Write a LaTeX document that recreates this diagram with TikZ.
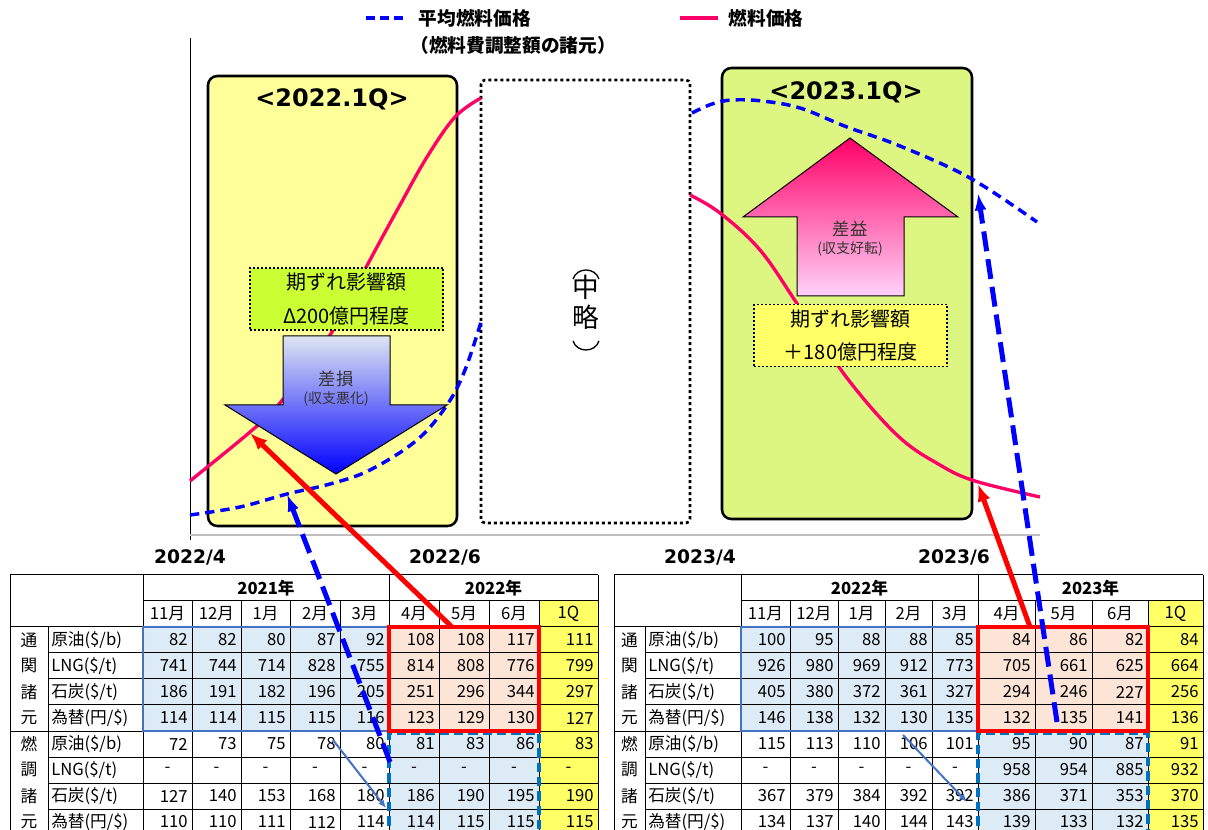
\documentclass[tikz,border=0pt]{standalone}
\usepackage{fontspec}
\setmainfont{Noto Sans CJK JP}
\newfontfamily\verdfont{DejaVu Sans}
\usepackage{tikz}
\usetikzlibrary{arrows.meta, positioning, calc}
\definecolor{fuelpink}{RGB}{255,0,102}
\definecolor{avgblue}{RGB}{0,0,255}
\definecolor{boxyellow}{RGB}{255,255,153}
\definecolor{boxgreen}{RGB}{221,246,130}
\definecolor{laggreen}{RGB}{204,255,51}
\definecolor{lagyellow}{RGB}{255,255,102}
\definecolor{cellblue}{RGB}{221,235,247}
\definecolor{cellsalmon}{RGB}{252,228,214}
\definecolor{cellyellow}{RGB}{255,255,102}
\definecolor{steelblue}{RGB}{68,114,196}
\definecolor{dashblue}{RGB}{0,112,192}
\tikzset{>=Latex}
\tikzset{
  fuelline/.style={fuelpink, line width=2.5pt},
  avgline/.style={avgblue, line width=2.6pt, dash pattern=on 7pt off 4.5pt},
  qbox/.style={draw=black, line width=1.9pt, rounded corners=7pt},
  qtitle/.style={font=\verdfont\bfseries\fontsize{18}{20}\selectfont},
  lagbox/.style={draw=black, line width=1.4pt, dash pattern=on 1.5pt off 1.5pt,
    align=center, minimum width=145pt, minimum height=46.5pt, inner sep=0pt,
    font=\fontsize{15}{25}\selectfont},
  datelbl/.style={font=\verdfont\bfseries\fontsize{14}{16}\selectfont},
  legendtxt/.style={anchor=west, font=\bfseries\fontsize{14}{16}\selectfont},
  celltxt/.style={inner sep=0pt, font=\fontsize{12.5}{14}\selectfont},
  num/.style={celltxt, anchor=east},
  yearlbl/.style={inner sep=0pt, font=\bfseries\fontsize{12.5}{14}\selectfont},
  gridline/.style={black, line width=0.75pt},
  omitarc/.style={black, line width=1pt},
  bigred/.style={-{Latex[length=13pt,width=10pt]}, red, line width=3.75pt},
  bigblue/.style={-{Latex[length=13pt,width=9pt]}, avgblue, line width=3.75pt,
    dash pattern=on 15pt off 6pt},
  thinblue/.style={-{Latex[length=6pt,width=5pt]}, steelblue, line width=1.5pt},
}
\def\dashmark{-}
% #1 column edges, #2 row, #3 values
\newcommand\numrow[3]{%
  \foreach \v [count=\c] in {#3} {
    \pgfmathsetmacro\xl{{#1}[\c-1]}
    \pgfmathsetmacro\xr{{#1}[\c]}
    \ifx\v\dashmark
      \node[celltxt] at ({(\xl+\xr)/2},{614+26*#2}) {-};
    \else
      \node[num] at (\xr-4,{614+26*#2}) {\v};
    \fi
  }}
% #1 left edge, #2 group column edge, #3 column edges, #4 #5 years
\newcommand\fueltable[5]{%
  \pgfmathsetmacro\xa{{#3}[0]}
  \pgfmathsetmacro\xs{{#3}[5]}
  \pgfmathsetmacro\xq{{#3}[8]}
  \pgfmathsetmacro\xe{{#3}[9]}
  \fill[cellblue] (\xa,627) rectangle (\xs,731);
  \fill[cellsalmon] (\xs,627) rectangle (\xq,731);
  \fill[cellblue] (\xs,731) rectangle (\xq,840);
  \fill[cellyellow] (\xq,601) rectangle (\xe,840);
  \draw[gridline] (#1,575) -- (\xe,575) (\xa,601) -- (\xe,601)
    (#1,627) -- (\xe,627) (#1,731) -- (\xe,731);
  \foreach \y in {653,679,705,757,783,809} \draw[gridline] (#2,\y) -- (\xe,\y);
  \draw[gridline] (#1,575) -- (#1,840) (#2,627) -- (#2,840) (\xa,575) -- (\xa,840)
    (\xs,575) -- (\xs,840) (\xe,575) -- (\xe,840);
  \foreach \i in {1,2,3,4,6,7,8} {
    \pgfmathsetmacro\xx{{#3}[\i]}
    \draw[gridline] (\xx,601) -- (\xx,840);
  }
  \node[yearlbl] at ({(\xa+\xs)/2},588) {#4};
  \node[yearlbl] at ({(\xs+\xe)/2},588) {#5};
  \foreach \m [count=\i] in {11月,12月,1月,2月,3月,4月,5月,6月,1Q} {
    \pgfmathsetmacro\xl{{#3}[\i-1]}
    \pgfmathsetmacro\xr{{#3}[\i]}
    \node[celltxt] at ({(\xl+\xr)/2},614) {\m};
  }
  \foreach \ch [count=\i] in {通,関,諸,元,燃,調,諸,元}
    \node[celltxt] at ({(#1+#2)/2},{614+26*\i}) {\ch};
  \foreach \lbl [count=\i] in {原油(\$/b),LNG(\$/t),石炭(\$/t),為替(円/\$),原油(\$/b),LNG(\$/t),石炭(\$/t),為替(円/\$)}
    \node[celltxt, anchor=west] at (#2+3,{614+26*\i}) {\lbl};
  % highlighted blocks
  \draw[steelblue, line width=1.5pt] (\xa,627) rectangle (\xs,731);
  \draw[dashblue, line width=2.6pt, dash pattern=on 7pt off 3.75pt]
    (\xs,840) -- (\xs,733) -- (\xq,733) -- (\xq,840);
  \draw[red, line width=3pt] (\xs,627) rectangle (\xq,731);
}

\begin{document}
\begin{tikzpicture}[x=0.75pt, y=-0.75pt]
  \useasboundingbox (0,0) rectangle (1208,830);
  \clip (0,0) rectangle (1208,830);
  % legend
  \draw[avgline, dash pattern=on 6.75pt off 3.75pt] (366,18) -- (404,18);
  \node[legendtxt] (avgleg) at (414,18) {平均燃料価格};
  \draw[fuelline] (680,18) -- (718,18);
  \node[legendtxt] (fuelleg) at (724,18) {燃料価格};
  \node[font=\bfseries\fontsize{14}{16}\selectfont] (sub) at (513,45) {（燃料費調整額の諸元）};
  % axes
  \draw[black, line width=0.75pt] (190,38) -- (190,540);
  \draw[black!25, line width=1.5pt] (190,535) -- (1040,535);
  % quarter boxes
  \draw[qbox, fill=boxyellow] (208,76) rectangle (457,526);
  \draw[qbox, fill=boxgreen] (722,68) rectangle (972,519);
  \draw[black, line width=2pt, dash pattern=on 2.25pt off 2.25pt, rounded corners=3pt]
    (481,80) rectangle (690,523);
  \node[qtitle] (q22) at (332,99) {<2022.1Q>};
  \node[qtitle] (q23) at (846,92) {<2023.1Q>};
  \node[align=center, font=\fontsize{20}{22.5}\selectfont] (omit) at (586,302) {中\\略};
  % vertical brackets of the omission mark
  \draw[omitarc] (573,279) .. controls (577,267) and (595,267) .. (599,279);
  \draw[omitarc] (573,341) .. controls (577,353) and (595,353) .. (599,341);
  % price curves
  \draw[fuelline] plot[smooth, tension=0.6] coordinates {(190,481) (250,432) (280,403)
    (332,332) (370,260) (400,205) (427,157) (455,117) (481,98)};
  \draw[avgline] plot[smooth, tension=0.6] coordinates {(190,515) (240,507) (287,494)
    (330,484) (370,470) (417,440) (447,405) (465,370) (481,322)};
  \draw[fuelline] plot[smooth, tension=0.6] coordinates {(690,195) (720,213) (760,250)
    (798,305) (847,378) (898,436) (940,465) (975,481) (1040,497)};
  \draw[avgline] plot[smooth, tension=0.6] coordinates {(692,113) (712,104) (732,100)
    (762,101) (800,108) (847,127) (900,146) (970,178) (1037,222)};
  % lag effect
  \node[lagbox, fill=laggreen] (lagL) at (346.5,299) {期ずれ影響額\\Δ200億円程度};
  \shadedraw[top color={rgb,255:red,222;green,230;blue,242},
    middle color={rgb,255:red,150;green,162;blue,236}, bottom color=avgblue,
    draw=black, line width=0.75pt]
    (283,336) -- (390,336) -- (390,405) -- (447,405) -- (336,474) -- (225,405)
    -- (283,405) -- cycle;
  \node[font=\fontsize{13}{15}\selectfont, text=black!80] (loss) at (336,379) {差損};
  \node[font=\fontsize{10.5}{12}\selectfont, text=black!80] (lossnote) at (336,399) {(収支悪化)};
  \shadedraw[top color=fuelpink, bottom color={rgb,255:red,255;green,210;blue,250},
    draw=black, line width=0.75pt]
    (850,138) -- (958,217) -- (904,217) -- (904,296) -- (797,296) -- (797,217)
    -- (743,217) -- cycle;
  \node[font=\fontsize{13}{15}\selectfont, text=black!80] (gain) at (850,229) {差益};
  \node[font=\fontsize{10.5}{12}\selectfont, text=black!80] (gainnote) at (850,249) {(収支好転)};
  \node[lagbox, fill=lagyellow] (lagR) at (850.5,335.5) {期ずれ影響額\\＋180億円程度};
  % dates
  \node[datelbl] (d224) at (190,557) {2022/4};
  \node[datelbl] (d226) at (445,557) {2022/6};
  \node[datelbl] (d234) at (700,557) {2023/4};
  \node[datelbl] (d236) at (954,557) {2023/6};
  % tables
  \fueltable{10}{48}{143,192,241,290,340,389,439,489,539,598}{2021年}{2022年}
  \numrow{143,192,241,290,340,389,439,489,539,598}{1}{82,82,80,87,92,108,108,117,111}
  \numrow{143,192,241,290,340,389,439,489,539,598}{2}{741,744,714,828,755,814,808,776,799}
  \numrow{143,192,241,290,340,389,439,489,539,598}{3}{186,191,182,196,205,251,296,344,297}
  \numrow{143,192,241,290,340,389,439,489,539,598}{4}{114,114,115,115,116,123,129,130,127}
  \numrow{143,192,241,290,340,389,439,489,539,598}{5}{72,73,75,78,80,81,83,86,83}
  \numrow{143,192,241,290,340,389,439,489,539,598}{6}{-,-,-,-,-,-,-,-,-}
  \numrow{143,192,241,290,340,389,439,489,539,598}{7}{127,140,153,168,180,186,190,195,190}
  \numrow{143,192,241,290,340,389,439,489,539,598}{8}{110,110,111,112,114,114,115,115,115}
  \fueltable{614}{645}{741,790,838,885,932,978,1035,1092,1148,1203}{2022年}{2023年}
  \numrow{741,790,838,885,932,978,1035,1092,1148,1203}{1}{100,95,88,88,85,84,86,82,84}
  \numrow{741,790,838,885,932,978,1035,1092,1148,1203}{2}{926,980,969,912,773,705,661,625,664}
  \numrow{741,790,838,885,932,978,1035,1092,1148,1203}{3}{405,380,372,361,327,294,246,227,256}
  \numrow{741,790,838,885,932,978,1035,1092,1148,1203}{4}{146,138,132,130,135,132,135,141,136}
  \numrow{741,790,838,885,932,978,1035,1092,1148,1203}{5}{115,113,110,106,101,95,90,87,91}
  \numrow{741,790,838,885,932,978,1035,1092,1148,1203}{6}{-,-,-,-,-,958,954,885,932}
  \numrow{741,790,838,885,932,978,1035,1092,1148,1203}{7}{367,379,384,392,392,386,371,353,370}
  \numrow{741,790,838,885,932,978,1035,1092,1148,1203}{8}{134,137,140,144,143,139,133,132,135}
  % shift arrows
  \coordinate (fuelL) at (250,433);
  \coordinate (avgL) at (287,494);
  \coordinate (fuelR) at (978,484);
  \coordinate (avgR) at (978,193);
  \coordinate (tradeL) at (452,627);
  \coordinate (adjL) at (390,762);
  \coordinate (tradeR) at (1030,627);
  \coordinate (adjR) at (1057,722);
  \coordinate (fromL) at (333,740);
  \coordinate (toL) at (386,808);
  \coordinate (fromR) at (903,735);
  \coordinate (toR) at (967,802);
  \draw[thinblue] (fromL) -- (toL);
  \draw[thinblue] (fromR) -- (toR);
  \draw[bigred] (tradeL) -- (fuelL);
  \draw[bigred] (tradeR) -- (fuelR);
  \draw[bigblue] (adjL) -- (avgL);
  \draw[bigblue] (adjR) -- (avgR);
\end{tikzpicture}
\end{document}
